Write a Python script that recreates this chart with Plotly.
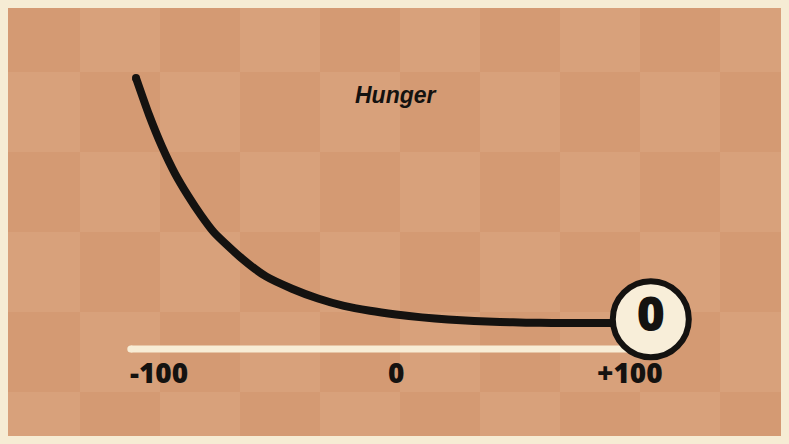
import plotly.graph_objects as go

# data
curve_x = [-100, -95, -90, -85, -80, -75, -70, -60, -50, -40, -30, -20, -10, 0, 10, 20, 30, 40, 50, 60, 98]
curve_y = [100, 85, 72, 61, 52, 44, 37, 27, 19, 14, 10, 7, 5, 3.5, 2.3, 1.4, 0.8, 0.4, 0.15, 0, 0]
current_value = "0"
tick_labels = ["-100", "0", "+100"]
tick_pos = [-103, 0, 103.5]
title_text = "Hunger"
scale_x = [-102, 97]
scale_y = [-10.6, -10.6]

W, H = 789, 444
ML, MR, MT, MB = 8, 8, 8, 8
BORDER = "#f6ecd4"
DARK = "#d49a73"
LIGHT = "#d8a17b"
INK = "#141210"

fig = go.Figure()

# checkerboard background (paper coordinates)
pw, ph = W - ML - MR, H - MT - MB
shapes = []
col_edges = [8] + [80 * k for k in range(1, 10)] + [781]
row_edges = [8, 72, 152, 232, 312, 392, 436]
for ci in range(len(col_edges) - 1):
    for ri in range(len(row_edges) - 1):
        c = DARK if (ci + ri) % 2 == 0 else LIGHT
        shapes.append(dict(
            type="rect", xref="paper", yref="paper", layer="below",
            x0=(col_edges[ci] - ML) / pw, x1=(col_edges[ci + 1] - ML) / pw,
            y0=(H - MB - row_edges[ri + 1]) / ph, y1=(H - MB - row_edges[ri]) / ph,
            line=dict(width=0), fillcolor=c))

# scale bar
fig.add_trace(go.Scatter(x=scale_x, y=scale_y, mode="lines",
                         line=dict(color="#f8edd6", width=7),
                         hoverinfo="skip", showlegend=False))
fig.add_trace(go.Scatter(x=[scale_x[0]], y=[scale_y[0]], mode="markers",
                         marker=dict(color="#f8edd6", size=7),
                         hoverinfo="skip", showlegend=False))
# curve
fig.add_trace(go.Scatter(x=curve_x, y=curve_y, mode="lines",
                         line=dict(color=INK, width=8, shape="spline", smoothing=0.6),
                         hoverinfo="skip", showlegend=False))
fig.add_trace(go.Scatter(x=[curve_x[0]], y=[curve_y[0]], mode="markers",
                         marker=dict(color=INK, size=8),
                         hoverinfo="skip", showlegend=False))
# end circle
fig.add_trace(go.Scatter(x=[curve_x[-1]], y=[curve_y[-1] + 1.5], mode="markers+text",
                         marker=dict(color="#f8eed9", size=76, line=dict(color=INK, width=6)),
                         text=[current_value], textposition="middle center",
                         textfont=dict(family="Open Sans", size=48, color=INK, weight=800),
                         hoverinfo="skip", showlegend=False))

annotations = []
anchors = ["left", "center", "right"]
for lab, xp, anc in zip(tick_labels, tick_pos, anchors):
    annotations.append(dict(x=xp, y=-20, xref="x", yref="y", text=lab, showarrow=False,
                            xanchor=anc, yanchor="middle",
                            font=dict(family="Open Sans", size=28, color=INK, weight=800)))
annotations.append(dict(x=0, y=93, xref="x", yref="y", text=f"<i>{title_text}</i>",
                        showarrow=False, xanchor="center", yanchor="middle",
                        font=dict(family="Liberation Sans", size=23, color=INK, weight=700)))

fig.update_layout(
    width=W, height=H,
    margin=dict(l=ML, r=MR, t=MT, b=MB),
    paper_bgcolor=BORDER, plot_bgcolor=DARK,
    shapes=shapes, annotations=annotations,
    xaxis=dict(range=[(8 - 396) / 2.6, (781 - 396) / 2.6], visible=False, fixedrange=True),
    yaxis=dict(range=[(323 - 436) / 2.45, (323 - 8) / 2.45], visible=False, fixedrange=True),
)
fig.write_html("out.html", config={"displayModeBar": False},
               post_script="document.body.style.margin='0';document.body.style.background='#f6ecd4';")
